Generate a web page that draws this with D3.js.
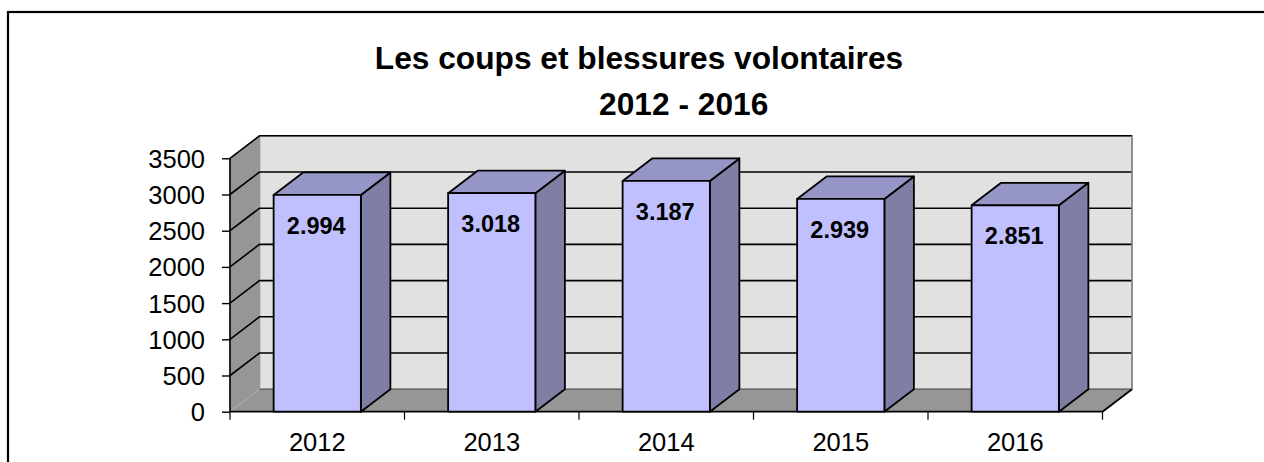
<!DOCTYPE html>
<html><head><meta charset="utf-8">
<script src="https://cdn.jsdelivr.net/npm/d3@7"></script>
<style>html,body{margin:0;padding:0;background:#fff;overflow:hidden}</style>
</head><body>
<svg id="chart" width="1264" height="462"></svg>
<script>
const categories = ["2012", "2013", "2014", "2015", "2016"];
const values = [2994, 3018, 3187, 2939, 2851];
const yTicks = [0, 500, 1000, 1500, 2000, 2500, 3000, 3500];
const titleLines = ["Les coups et blessures volontaires", "2012 - 2016"];

const svg = d3.select("#chart");
const font = "'Liberation Sans', Arial, sans-serif";

// frame
svg.append("rect").attr("x", 8).attr("y", 12).attr("width", 1300).attr("height", 500)
  .attr("fill", "#fff").attr("stroke", "#000").attr("stroke-width", 2.2);

const X0 = 230, X1 = 1102.5;
const DX = 29.5, DY = -22.5;
const y = d3.scaleLinear().domain([0, 3500]).range([411.7, 158.3]);
const x = d3.scaleBand().domain(categories).range([X0, X1]).paddingInner(0.5).paddingOuter(0.25);
const xb = d3.scaleBand().domain(categories).range([X0, X1]).padding(0);
const loc = d3.formatLocale({decimal: ",", thousands: ".", grouping: [3], currency: ["", "€"]});
const fmt = loc.format(",");

const g = svg.append("g");
const yTop = y(3500), yBot = y(0);
const pts = a => a.map(p => p.join(",")).join(" ");

// back wall
g.append("polygon").attr("points", pts([[X0+DX, yTop+DY],[X1+DX, yTop+DY],[X1+DX, yBot+DY],[X0+DX, yBot+DY]]))
  .attr("fill", "#e1e1e1").attr("stroke", "#8a8a8a").attr("stroke-width", 1.5);
// side wall
g.append("polygon").attr("points", pts([[X0, yTop],[X0+DX, yTop+DY],[X0+DX, yBot+DY],[X0, yBot]]))
  .attr("fill", "#969696").attr("stroke", "#969696").attr("stroke-width", 1);
// floor
g.append("polygon").attr("points", pts([[X0, yBot],[X0+DX, yBot+DY],[X1+DX, yBot+DY],[X1, yBot]]))
  .attr("fill", "#969696");
g.append("line").attr("x1", X0).attr("y1", yBot).attr("x2", X0+DX).attr("y2", yBot+DY)
  .attr("stroke", "#b0b0b0").attr("stroke-width", 1);

// gridlines
yTicks.forEach(t => {
  const yy = y(t);
  if (t > 0) {
    g.append("polyline").attr("points", pts([[X0, yy],[X0+DX, yy+DY],[X1+DX, yy+DY]]))
      .attr("fill", "none").attr("stroke", "#000").attr("stroke-width", 1.6);
  } else {
    g.append("line").attr("x1", X0+DX).attr("y1", yy+DY).attr("x2", X1+DX).attr("y2", yy+DY)
      .attr("stroke", "#555").attr("stroke-width", 1);
  }
});
g.append("line").attr("x1", X1+DX).attr("y1", yTop+DY).attr("x2", X1+DX).attr("y2", yBot+DY)
  .attr("stroke", "#8a8a8a").attr("stroke-width", 1.5);

// axis lines
g.append("line").attr("x1", X0).attr("y1", yTop).attr("x2", X0).attr("y2", yBot).attr("stroke", "#000").attr("stroke-width", 1.6);
g.append("line").attr("x1", X0).attr("y1", yBot).attr("x2", X1).attr("y2", yBot).attr("stroke", "#000").attr("stroke-width", 1.8);
g.append("line").attr("x1", X1).attr("y1", yBot).attr("x2", X1+DX).attr("y2", yBot+DY).attr("stroke", "#000").attr("stroke-width", 1.8);

// bars
const bw = x.bandwidth();
values.forEach((v, i) => {
  const c = categories[i];
  const xl = x(c), xr = xl + bw, yt = y(v), yb = y(0);
  const bg = g.append("g").attr("stroke", "#000").attr("stroke-width", 1.8).attr("stroke-linejoin", "round");
  bg.append("polygon").attr("points", pts([[xr, yt],[xr+DX, yt+DY],[xr+DX, yb+DY],[xr, yb]])).attr("fill", "#7f7fa6");
  bg.append("polygon").attr("points", pts([[xl, yt],[xl+DX, yt+DY],[xr+DX, yt+DY],[xr, yt]])).attr("fill", "#9595c6");
  bg.append("rect").attr("x", xl).attr("y", yt).attr("width", bw).attr("height", yb - yt).attr("fill", "#c0c0ff");
  g.append("text").attr("x", xl + bw/2 - 1).attr("y", yt + 39)
    .attr("text-anchor", "middle").attr("font-family", font).attr("font-weight", "bold")
    .attr("font-size", "23.5px").attr("fill", "#000").text(fmt(v));
});

// y axis ticks/labels
const ya = svg.append("g").attr("transform", `translate(${X0},0)`)
  .call(d3.axisLeft(y).tickValues(yTicks).tickSize(8).tickPadding(17).tickFormat(d3.format("d")));
ya.select(".domain").remove();
ya.selectAll(".tick line").attr("stroke", "#000").attr("stroke-width", 1.4);
ya.selectAll(".tick text").attr("font-family", font).attr("font-size", "25.5px").attr("fill", "#000").attr("dy", "0.35em");

// x axis
const xa = svg.append("g").attr("transform", `translate(0,${yBot})`)
  .call(d3.axisBottom(x).tickSize(0).tickPadding(0));
xa.select(".domain").remove();
xa.selectAll(".tick text").attr("font-family", font).attr("font-size", "25.5px").attr("fill", "#000")
  .attr("y", 39).attr("dy", 0);
const bounds = categories.map(c => xb(c)).concat([X1]);
svg.append("g").selectAll("line").data(bounds).join("line")
  .attr("x1", d => d).attr("x2", d => d).attr("y1", yBot).attr("y2", yBot + 8)
  .attr("stroke", "#000").attr("stroke-width", 1.2);

// title
svg.append("text").attr("x", 639).attr("y", 69).attr("text-anchor", "middle")
  .attr("font-family", font).attr("font-weight", "bold").attr("font-size", "31.7px").text(titleLines[0]);
svg.append("text").attr("x", 683.7).attr("y", 115).attr("text-anchor", "middle")
  .attr("font-family", font).attr("font-weight", "bold").attr("font-size", "31.7px").text(titleLines[1]);
</script>
</body></html>
